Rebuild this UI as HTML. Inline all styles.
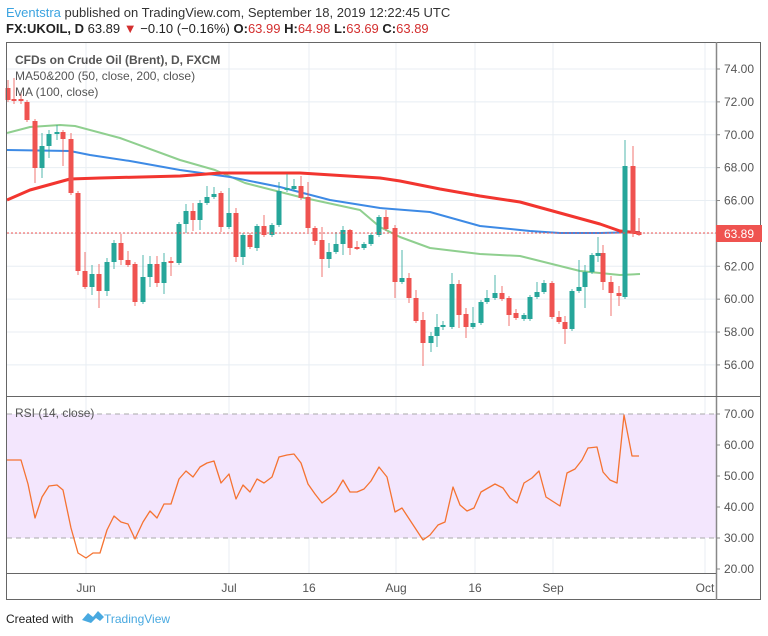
<!DOCTYPE html>
<html><head><meta charset="utf-8"><style>
html,body{margin:0;padding:0;background:#fff;width:768px;height:636px;overflow:hidden}
svg{display:block}
text{font-family:"Liberation Sans",sans-serif}
</style></head><body>
<svg id="s" width="768" height="636" xmlns="http://www.w3.org/2000/svg">
<text x="6" y="17" font-size="13"><tspan fill="#3ba3e0">Eventstra</tspan><tspan fill="#333"> published on TradingView.com, September 18, 2019 12:22:45 UTC</tspan></text>
<text x="6" y="33" font-size="13" fill="#222"><tspan font-weight="bold">FX:UKOIL, D</tspan><tspan> 63.89 </tspan><tspan fill="#d32f2f">▼</tspan><tspan> −0.10 (−0.16%) </tspan><tspan font-weight="bold">O:</tspan><tspan fill="#d32f2f">63.99 </tspan><tspan font-weight="bold">H:</tspan><tspan fill="#d32f2f">64.98 </tspan><tspan font-weight="bold">L:</tspan><tspan fill="#d32f2f">63.69 </tspan><tspan font-weight="bold">C:</tspan><tspan fill="#d32f2f">63.89</tspan></text>
<g id="grid"></g>
<rect x="7" y="414" width="709" height="124" fill="#f3e6fd"/>
<line x1="7" x2="716" y1="414" y2="414" stroke="#aaa" stroke-dasharray="5,4"/>
<line x1="7" x2="716" y1="538" y2="538" stroke="#aaa" stroke-dasharray="5,4"/>
<g id="ma"></g>
<g id="c"></g>
<line x1="7" x2="716" y1="233" y2="233" stroke="#ef5350" stroke-dasharray="2,2"/>
<g id="rsi"></g>
<rect x="6.5" y="42.5" width="754" height="557" fill="none" stroke="#666"/>
<line x1="716.5" x2="716.5" y1="42" y2="600" stroke="#888" stroke-width="1.5"/>
<line x1="7" x2="761" y1="396.5" y2="396.5" stroke="#666"/>
<line x1="7" x2="716" y1="573.5" y2="573.5" stroke="#666"/>
<rect x="716" y="225" width="46" height="17" fill="#ef5350"/>
<text x="739" y="238" font-size="12" fill="#fff" text-anchor="middle">63.89</text>
<text x="15" y="64" font-size="12" fill="#555" font-weight="bold">CFDs on Crude Oil (Brent), D, FXCM</text>
<text x="15" y="80" font-size="12" fill="#555">MA50&amp;200 (50, close, 200, close)</text>
<text x="15" y="96" font-size="12" fill="#555">MA (100, close)</text>
<text x="15" y="417" font-size="12" fill="#555">RSI (14, close)</text>
<g id="ax" font-size="12" fill="#555"></g>
<text x="6" y="623" font-size="12" fill="#222">Created with</text>
<path d="M82 620 l6-7 5 4 5-6 6 6 -4 4 -4-3 -5 5 z" fill="#49a9e0"/>
<text x="104" y="623" font-size="12" fill="#49a9e0">TradingView</text>
</svg>
<script>
var NS="http://www.w3.org/2000/svg";
function el(p,t,a){var e=document.createElementNS(NS,t);for(var k in a)e.setAttribute(k,a[k]);document.getElementById(p).appendChild(e);return e;}
var py=function(p){return 69+(74-p)*16.44};
var vx=[86,229,309,396,475,553,705];
for(var p=56;p<=74;p+=2){el('grid','line',{x1:7,x2:716,y1:py(p),y2:py(p),stroke:'#e8eef3'});
 el('grid','line',{x1:716,x2:720,y1:py(p),y2:py(p),stroke:'#888'});
 if(Math.abs(p-64)>0.5){var t=el('ax','text',{x:724,y:py(p)+4});t.textContent=p.toFixed(2);}}
vx.forEach(function(x){el('grid','line',{x1:x,x2:x,y1:42,y2:573,stroke:'#e8eef3'});});
[20,30,40,50,60,70].forEach(function(r){var y=414+(70-r)*3.1;
 if(r>=40&&r<=60)el('grid','line',{x1:7,x2:716,y1:y,y2:y,stroke:'#e4e0ee'});
 el('ax','line',{x1:716,x2:720,y1:y,y2:y,stroke:'#888'});
 var t=el('ax','text',{x:724,y:y+4});t.textContent=r.toFixed(2);});
[['Jun',86],['Jul',229],['16',309],['Aug',396],['16',475],['Sep',553],['Oct',705]].forEach(function(a){
 var t=el('ax','text',{x:a[1],y:592,'text-anchor':'middle'});t.textContent=a[0];});
function line(pts,c,w,g){el(g||'ma','polyline',{points:pts.map(function(p){return p.join(',')}).join(' '),fill:'none',stroke:c,'stroke-width':w,'stroke-linejoin':'round'});}
line([[7,133],[30,127],[60,125],[75,126],[120,138],[180,160],[215,170],[245,183],[300,197],[360,210],[380,227],[400,237],[430,248],[480,254],[520,256],[560,266],[580,271],[600,273],[620,275],[640,274]],'#8fcf8f',2);
line([[7,150],[70,151],[90,155],[130,161],[180,170],[230,177],[280,187],[330,200],[380,208],[430,212],[480,226],[530,231],[560,233],[600,233],[640,232]],'#3d8ae5',2);
line([[7,200],[30,190],[70,179],[100,178],[180,176],[220,173],[300,173],[380,178],[400,181],[440,189],[480,196],[520,202],[560,213],[600,224],[620,231],[640,233]],'#f2352f',3);
var C=[[8,'r',88,100,80,102],[14,'r',99,101,78,104],[21,'r',99,101,92,104],[27,'r',102,120,100,122],
[35,'r',121,168,119,183],[42,'g',146,168,133,178],[49,'g',134,146,130,158],[57,'g',132,134,125,140],[63,'r',132,139,130,166],[71,'r',139,193,133,195],[78,'r',193,271,191,275],[85,'r',271,287,252,289],[92,'g',274,287,265,295],[99,'r',274,291,264,308],[107,'g',262,291,258,296],[114,'g',243,262,240,269],[121,'r',243,260,234,265],[128,'r',260,265,251,267],[135,'r',264,302,262,306],[143,'g',277,302,255,304],[150,'g',264,277,256,287],[157,'r',264,283,256,287],[164,'g',262,283,253,294],[171,'r',261,263,257,276],[179,'g',224,263,222,265],[186,'g',211,224,204,233],[193,'r',211,220,203,231],[200,'g',203,220,200,230],[207,'g',197,203,186,205],[214,'g',194,197,187,199],[221,'r',193,227,191,232],[229,'g',213,227,188,229],[236,'r',213,257,208,262],[243,'g',235,257,233,265],[250,'r',235,247,233,249],[257,'g',226,248,224,251],[264,'r',226,235,215,237],[272,'g',225,235,223,237],[279,'g',191,225,182,227],[287,'g',188,190,174,192],[294,'g',186,189,179,191],[301,'r',186,198,176,200],[308,'r',197,228,182,232],[315,'r',228,241,226,245],[322,'r',240,259,227,277],[329,'g',252,259,243,268],[336,'g',244,252,232,254],[343,'g',230,244,226,255],[350,'r',230,248,229,255],[357,'r',247,249,241,250],[364,'g',244,248,242,250],[371,'g',235,244,233,246],[379,'g',217,235,215,237],[386,'r',217,229,210,231],[395,'r',228,282,225,298],[402,'g',278,282,250,284],[409,'r',278,298,273,303],[416,'r',298,321,290,323],[423,'r',320,343,312,366],[431,'g',336,343,332,352],[437,'g',327,336,314,347],[443,'g',325,327,321,330],[452,'g',284,327,273,329],[459,'r',284,315,280,328],[466,'r',314,327,308,338],[473,'g',323,327,307,329],[481,'g',302,323,300,325],[487,'g',298,302,290,304],[495,'g',293,298,275,300],[502,'r',293,299,286,301],[509,'r',298,315,296,326],[516,'r',313,318,309,320],[524,'g',315,319,313,321],[530,'g',297,319,295,321],[537,'g',292,297,282,299],[544,'g',283,292,280,294],[552,'r',283,317,281,319],[559,'r',317,322,311,324],[565,'r',322,329,316,344],[572,'g',291,329,289,331],[579,'g',287,291,260,293],[585,'g',272,287,265,308],[592,'g',255,272,253,274],[598,'g',253,256,237,262],[603,'r',253,282,245,290],[611,'r',282,293,276,316],[619,'r',293,296,286,306],[625,'g',166,297,140,299],[633,'r',166,233,146,237],[639,'r',232,235,218,236]];
C.forEach(function(c){var col=c[1]=='g'?'#26a69a':'#ef5350';
 el('c','line',{x1:c[0],x2:c[0],y1:c[4],y2:c[5],stroke:col,'stroke-width':1,opacity:0.8});
 el('c','rect',{x:c[0]-2.5,y:c[2],width:5,height:Math.max(1,c[3]-c[2]),fill:col});});
line([[7,460],[21,460],[28,484],[35,518],[42,497],[49,486],[57,485],[63,490],[71,528],[78,553],[86,558],[93,553],[100,553],[107,530],[114,516],[121,522],[128,524],[135,539],[143,522],[150,511],[157,518],[164,504],[171,504],[179,479],[186,471],[193,477],[200,467],[207,463],[214,461],[221,483],[229,474],[236,499],[243,485],[250,492],[257,479],[264,483],[272,477],[279,457],[287,455],[294,454],[301,463],[308,484],[315,494],[322,503],[329,498],[336,492],[343,480],[350,492],[357,492],[364,489],[371,481],[379,467],[387,477],[395,512],[402,508],[423,540],[430,535],[438,525],[445,522],[453,487],[460,505],[467,511],[474,508],[481,492],[495,484],[503,488],[510,498],[517,503],[524,483],[532,478],[539,471],[546,497],[560,506],[567,473],[575,469],[582,460],[588,448],[597,447],[603,472],[610,480],[617,483],[624,415],[632,456],[639,456]],'#f57332',1.3,'rsi');
</script>
</body></html>
